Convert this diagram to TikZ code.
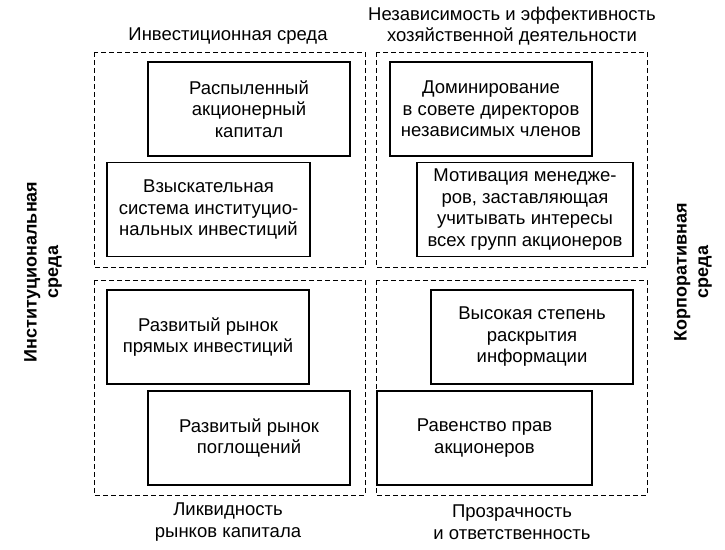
\documentclass[tikz,border=0pt]{standalone}
\usepackage{fontspec}
\setmainfont{Liberation Sans}
\usepackage{tikz}

\tikzset{
	txt/.style={align=center,inner sep=0pt,font=\fontsize{18.5}{21.5}\selectfont},
	cell/.style={txt,draw,line width=1.3pt,minimum width=202pt,minimum height=94pt},
	zone/.style={draw,line width=0.9pt,dash pattern=on 5pt off 3pt},
	side/.style={txt,font=\fontsize{18}{21.5}\selectfont\bfseries,rotate=90}
}

\begin{document}
\begin{tikzpicture}[x=1pt,y=-1pt]
					\useasboundingbox (0,0) rectangle (725,549);
					% Define the quadrants
					\foreach \x/\y in {94/52,376/52,94/280,376/280} \draw[zone] (\x,\y) rectangle ++(271,215);
					% Headers and footers
					\node[txt] (invest) at (228,36) {Инвестиционная среда};
					\node[txt] (nezav) at (512,26) {Независимость и эффективность\\хозяйственной деятельности};
					\node[txt] (likvid) at (228,522) {Ликвидность\\рынков капитала};
					\node[txt] (prozr) at (512,522) {Прозрачность\\и ответственность};
					\node[side] (instit) at (43,272) {Институциональная\\среда};
					\node[side] (korp) at (693,272) {Корпоративная\\среда};
					% Create boxes
					\node[cell] (raspyl) at (249,109) {Распыленный\\акционерный\\капитал};
					\node[cell,minimum width=203pt] (vzysk) at (208.5,209.5) {Взыскательная\\система институцио-\\нальных инвестиций};
					\node[cell] (domin) at (491,109) {Доминирование\\в совете директоров\\независимых членов};
					\node[cell,minimum width=216pt] (motiv) at (525,209.5) {Мотивация менедже-\\ров, заставляющая\\учитывать интересы\\всех групп акционеров};
					\node[cell] (pryam) at (208,337) {Развитый рынок\\прямых инвестиций};
					\node[cell] (pogl) at (249,438) {Развитый рынок\\поглощений};
					\node[cell] (vysok) at (532,337) {Высокая степень\\раскрытия\\информации};
					\node[cell,minimum width=215pt] (raven) at (484.5,438) {Равенство прав\\акционеров};
				\end{tikzpicture}
\end{document}
